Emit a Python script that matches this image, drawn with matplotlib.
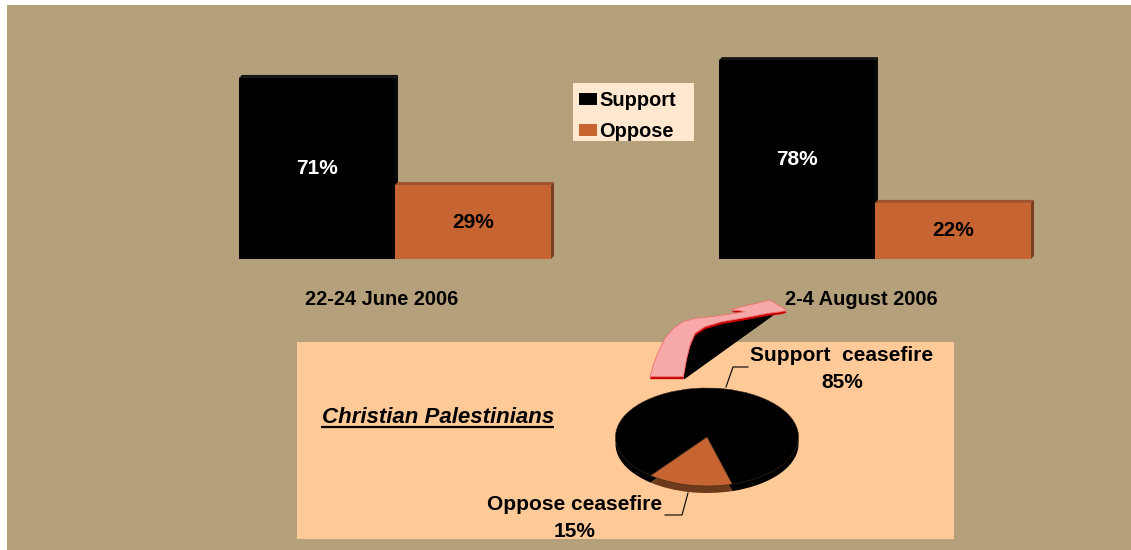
import matplotlib
matplotlib.use("Agg")
import matplotlib.pyplot as plt
from matplotlib.patches import Rectangle, Polygon
import numpy as np

W, H = 1131, 550

# survey results
periods = ["22-24 June 2006", "2-4 August 2006"]
support = [71, 78]
oppose = [29, 22]
series_names = ["Support", "Oppose"]

# christian palestinians, latest round
pie_labels = ["Support  ceasefire", "Oppose ceasefire"]
pie_values = [85, 15]

TAN = "#B4A07A"
PEACH = "#FFCA98"
LEGEND_BG = "#FFE8CF"
ORANGE = "#C66432"
ORANGE_TOP = "#A0532C"
ORANGE_SIDE = "#7A3F20"
PIE_SIDE = "#6E3A1C"
PINK = "#F7A8A8"
RED = "#C80000"

plt.rcParams["font.family"] = ["Liberation Sans", "DejaVu Sans"]

fig = plt.figure(figsize=(W / 100, H / 100), dpi=100)
fig.patch.set_facecolor("white")


def px_axes(left, top, width, height, **kw):
    # axes placed in pixel units measured from the top-left corner
    return fig.add_axes([left / W, 1 - (top + height) / H, width / W, height / H], **kw)


# background layer in pixel coordinates
canvas = px_axes(0, 0, W, H, zorder=0)
canvas.set_xlim(0, W)
canvas.set_ylim(H, 0)
canvas.axis("off")
canvas.add_patch(Rectangle((7, 5), W - 7, H - 5, fc=TAN, ec="none"))
canvas.add_patch(Rectangle((297, 342), 657, 197, fc=PEACH, ec="none"))
canvas.add_patch(Rectangle((573, 83), 121, 58, fc=LEGEND_BG, ec="none"))

# ---- bars ----
ax = px_axes(155, 4, 960, 255, zorder=1)
ax.set_facecolor("none")
x = np.arange(len(periods))
w = 0.325
b1 = ax.bar(x - w / 2, support, w, color="black", zorder=2)
b2 = ax.bar(x + w / 2, oppose, w, color=ORANGE, zorder=2)
ax.set_xlim(-0.5, 1.5)
ax.set_ylim(0, 100)
for s in ax.spines.values():
    s.set_visible(False)
ax.set_yticks([])
ax.set_xticks(x - 0.028, periods, fontsize=14.4, fontweight="bold")
ax.tick_params(axis="x", length=0, pad=22)

# small 3d depth on every bar
dx = 3 * 2.0 / 960
dy = 3 * 100 / 255


def add_depth(bars, top_c, side_c):
    for r in bars:
        x0, x1, h = r.get_x(), r.get_x() + r.get_width(), r.get_height()
        ax.add_patch(Polygon([(x0, h), (x0 + dx, h + dy), (x1 + dx, h + dy), (x1, h)],
                             fc=top_c, ec="none", zorder=1))
        ax.add_patch(Polygon([(x1, 0), (x1, h), (x1 + dx, h + dy), (x1 + dx, dy)],
                             fc=side_c, ec="none", zorder=1))


add_depth(b1, "#151515", "#0a0a0a")
add_depth(b2, ORANGE_TOP, ORANGE_SIDE)

ax.bar_label(b1, labels=[f"{v}%" for v in support], label_type="center",
             color="white", fontsize=15, fontweight="bold")
ax.bar_label(b2, labels=[f"{v}%" for v in oppose], label_type="center",
             color="black", fontsize=15, fontweight="bold")

fig.legend([b1, b2], series_names, loc="upper left",
           bbox_to_anchor=(573 / W, 1 - 85 / H), borderaxespad=0, frameon=False,
           prop=dict(weight="bold", size=14.4), handlelength=0.9, handleheight=0.5,
           handletextpad=0.1, labelspacing=0.6, borderpad=0.3)

# ---- pie (flattened, with a thin side) ----
cx, cy, rx, ry = 707, 437, 91.5, 49
thick = 7
t = thick / ry
pax = px_axes(cx - rx, cy - ry, 2 * rx, 2 * ry + thick, zorder=1)
pax.set_facecolor("none")
pax.pie(pie_values, colors=["black", PIE_SIDE], startangle=286, center=(0, -t),
        wedgeprops=dict(linewidth=0))
pax.pie(pie_values, colors=["black", ORANGE], startangle=286,
        wedgeprops=dict(edgecolor="#3b2a1c", linewidth=0.4))
pax.set_aspect("auto")
pax.set_xlim(-1, 1)
pax.set_ylim(-1 - t, 1)
pax.axis("off")

lbl_font = dict(fontsize=15, fontweight="bold", ha="center", va="center",
                multialignment="center", linespacing=1.5)
canvas.text(842, 369, f"{pie_labels[0]}\n{pie_values[0]}%", **lbl_font)
canvas.text(575, 518, f"{pie_labels[1]}\n{pie_values[1]}%", **lbl_font)
canvas.plot([748, 733, 726], [367, 367, 387], color="black", lw=0.8, zorder=3)
canvas.plot([665, 682, 688], [515, 515, 493], color="black", lw=0.8, zorder=3)

# ---- curved arrow from the pie up to the second survey ----
ribbon = [(650, 376.7), (653.3, 365), (658.3, 351.7), (665, 338.3), (673.3, 328.3),
          (683.3, 321.7), (695, 318.3), (711.7, 316.7), (728.3, 314.3), (745, 311.7),
          (731, 309.3), (770, 300), (786.7, 310), (781.7, 311.7), (768.3, 313.3),
          (745, 317.7), (721.7, 321.7), (705, 326.7), (695, 333.3), (690, 345),
          (686.7, 358.3), (683.3, 376.7)]
shadow = [(684, 379.5), (776, 313.5)] + ribbon[14:]
canvas.add_patch(Polygon(shadow, closed=True, fc="black", ec="none", zorder=2))
canvas.add_patch(Polygon([(px, py + 2.5) for px, py in ribbon], closed=True,
                         fc=RED, ec="none", zorder=2))
canvas.add_patch(Polygon(ribbon, closed=True, fc=PINK, ec="#F07070", lw=0.6, zorder=2))

# group title with underline
title = canvas.text(322, 423, "Christian Palestinians", fontsize=16,
                    fontweight="bold", fontstyle="italic", va="baseline", zorder=3)
fig.canvas.draw()
bb = title.get_window_extent().transformed(canvas.transData.inverted())
canvas.plot([bb.x0 - 1, bb.x1], [427, 427], color="black", lw=1.6,
            solid_capstyle="butt", zorder=3)

fig.savefig("out.png", dpi=100)
